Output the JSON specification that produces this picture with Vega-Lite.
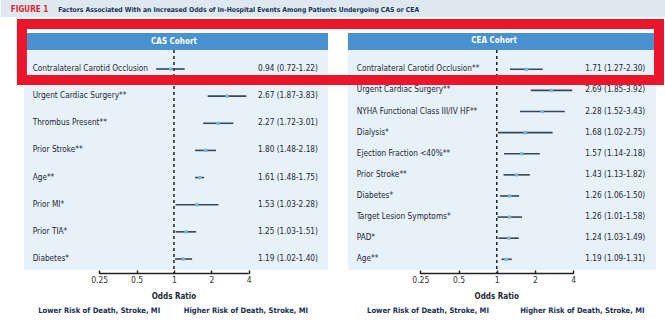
{
  "$schema": "https://vega.github.io/schema/vega-lite/v6.json",
  "padding": 0,
  "background": "white",
  "bounds": "flush",
  "spacing": 20,
  "config": {
    "view": {"stroke": null},
    "text": {"font": "DejaVu Sans Condensed, Roboto"},
    "axis": {"labelFont": "DejaVu Sans Condensed, Roboto"}
  },
  "datasets": {
    "cas": [
      {"rank": 0, "factor": "Contralateral Carotid Occlusion", "or": 0.94, "lo": 0.72, "hi": 1.22, "label": "0.94 (0.72-1.22)"},
      {"rank": 1, "factor": "Urgent Cardiac Surgery**", "or": 2.67, "lo": 1.87, "hi": 3.83, "label": "2.67 (1.87-3.83)"},
      {"rank": 2, "factor": "Thrombus Present**", "or": 2.27, "lo": 1.72, "hi": 3.01, "label": "2.27 (1.72-3.01)"},
      {"rank": 3, "factor": "Prior Stroke**", "or": 1.80, "lo": 1.48, "hi": 2.18, "label": "1.80 (1.48-2.18)"},
      {"rank": 4, "factor": "Age**", "or": 1.61, "lo": 1.48, "hi": 1.75, "label": "1.61 (1.48-1.75)"},
      {"rank": 5, "factor": "Prior MI*", "or": 1.53, "lo": 1.03, "hi": 2.28, "label": "1.53 (1.03-2.28)"},
      {"rank": 6, "factor": "Prior TIA*", "or": 1.25, "lo": 1.03, "hi": 1.51, "label": "1.25 (1.03-1.51)"},
      {"rank": 7, "factor": "Diabetes*", "or": 1.19, "lo": 1.02, "hi": 1.40, "label": "1.19 (1.02-1.40)"}
    ],
    "cea": [
      {"rank": 0, "factor": "Contralateral Carotid Occlusion**", "or": 1.71, "lo": 1.27, "hi": 2.30, "label": "1.71 (1.27-2.30)"},
      {"rank": 1, "factor": "Urgent Cardiac Surgery**", "or": 2.69, "lo": 1.85, "hi": 3.92, "label": "2.69 (1.85-3.92)"},
      {"rank": 2, "factor": "NYHA Functional Class III/IV HF**", "or": 2.28, "lo": 1.52, "hi": 3.43, "label": "2.28 (1.52-3.43)"},
      {"rank": 3, "factor": "Dialysis*", "or": 1.68, "lo": 1.02, "hi": 2.75, "label": "1.68 (1.02-2.75)"},
      {"rank": 4, "factor": "Ejection Fraction <40%**", "or": 1.57, "lo": 1.14, "hi": 2.18, "label": "1.57 (1.14-2.18)"},
      {"rank": 5, "factor": "Prior Stroke**", "or": 1.43, "lo": 1.13, "hi": 1.82, "label": "1.43 (1.13-1.82)"},
      {"rank": 6, "factor": "Diabetes*", "or": 1.26, "lo": 1.06, "hi": 1.50, "label": "1.26 (1.06-1.50)"},
      {"rank": 7, "factor": "Target Lesion Symptoms*", "or": 1.26, "lo": 1.01, "hi": 1.58, "label": "1.26 (1.01-1.58)"},
      {"rank": 8, "factor": "PAD*", "or": 1.24, "lo": 1.03, "hi": 1.49, "label": "1.24 (1.03-1.49)"},
      {"rank": 9, "factor": "Age**", "or": 1.19, "lo": 1.09, "hi": 1.31, "label": "1.19 (1.09-1.31)"}
    ]
  },
  "hconcat": [
    {
      "width": 304,
      "height": 237,
      "view": {"fill": "#e7f1fa", "stroke": null},
      "layer": [
        {"data": {"values": [{}]}, "mark": {"type": "rect", "color": "#dde8f1"},
         "encoding": {"x": {"datum": 0.0403, "scale": {"type": "log", "domain": [0.06192, 17.42], "nice": false}}, "x2": {"datum": 9236},
                      "y": {"datum": -2.5424, "scale": {"domain": [-1.3265, 7.406], "reverse": true, "nice": false, "zero": false}, "axis": null}, "y2": {"datum": -1.916}}},
        {"data": {"values": [{}]}, "mark": {"type": "text", "text": "FIGURE 1", "align": "left", "baseline": "middle", "fontSize": 8, "fontWeight": "bold", "color": "#e0262d"},
         "encoding": {"x": {"datum": 0.04852, "scale": {"type": "log", "domain": [0.06192, 17.42], "nice": false}},
                      "y": {"datum": -2.192, "scale": {"domain": [-1.3265, 7.406], "reverse": true, "nice": false, "zero": false}, "axis": null}}},
        {"data": {"values": [{}]}, "mark": {"type": "text", "text": "Factors Associated With an Increased Odds of In-Hospital Events Among Patients Undergoing CAS or CEA", "align": "left", "baseline": "middle", "fontSize": 6.75, "fontWeight": "bold", "color": "#1b3051"},
         "encoding": {"x": {"datum": 0.1168, "scale": {"type": "log", "domain": [0.06192, 17.42], "nice": false}},
                      "y": {"datum": -2.192, "scale": {"domain": [-1.3265, 7.406], "reverse": true, "nice": false, "zero": false}, "axis": null}}},
        {"data": {"values": [{}]}, "mark": {"type": "rect", "color": "#4a91d0"},
         "encoding": {"x": {"datum": 0.06192, "scale": {"type": "log", "domain": [0.06192, 17.42], "nice": false}}, "x2": {"datum": 17.42},
                      "y": {"datum": -1.3265, "scale": {"domain": [-1.3265, 7.406], "reverse": true, "nice": false, "zero": false}, "axis": null}, "y2": {"datum": -0.700}}},
        {"data": {"values": [{}]}, "mark": {"type": "text", "text": "CAS Cohort", "align": "center", "baseline": "middle", "fontSize": 8, "fontWeight": "bold", "color": "white"},
         "encoding": {"x": {"datum": 1, "scale": {"type": "log", "domain": [0.06192, 17.42], "nice": false}},
                      "y": {"datum": -1.013, "scale": {"domain": [-1.3265, 7.406], "reverse": true, "nice": false, "zero": false}, "axis": null}}},
        {"data": {"values": [{}]}, "mark": {"type": "rule", "color": "#222222", "strokeWidth": 1.5, "strokeDash": [3, 3]},
         "encoding": {"x": {"datum": 1, "scale": {"type": "log", "domain": [0.06192, 17.42], "nice": false}},
                      "y": {"datum": -0.700, "scale": {"domain": [-1.3265, 7.406], "reverse": true, "nice": false, "zero": false}, "axis": null}, "y2": {"datum": 7.535}}},
        {"data": {"name": "cas"}, "mark": {"type": "rule", "color": "#3a4650", "strokeWidth": 1.6},
         "encoding": {"x": {"field": "lo", "type": "quantitative", "scale": {"type": "log", "domain": [0.06192, 17.42], "nice": false},
                            "axis": {"values": [0.25, 0.5, 1, 2, 4], "labelExpr": "'' + datum.value", "labelOverlap": false, "domain": false, "grid": false, "tickSize": 3.5, "tickColor": "#222222", "tickWidth": 1.5, "labelFontSize": 8.5, "labelColor": "#333333", "labelPadding": 2, "title": null}},
                      "x2": {"field": "hi"},
                      "y": {"field": "rank", "type": "quantitative", "scale": {"domain": [-1.3265, 7.406], "reverse": true, "nice": false, "zero": false}, "axis": null}}},
        {"data": {"name": "cas"}, "mark": {"type": "circle", "size": 14, "color": "#7db3dd", "opacity": 1},
         "encoding": {"x": {"field": "or", "type": "quantitative", "scale": {"type": "log", "domain": [0.06192, 17.42], "nice": false}},
                      "y": {"field": "rank", "type": "quantitative", "scale": {"domain": [-1.3265, 7.406], "reverse": true, "nice": false, "zero": false}, "axis": null}}},
        {"data": {"name": "cas"}, "mark": {"type": "text", "align": "left", "baseline": "middle", "fontSize": 8.2, "color": "#1e2832"},
         "encoding": {"x": {"datum": 0.07272, "scale": {"type": "log", "domain": [0.06192, 17.42], "nice": false}},
                      "y": {"field": "rank", "type": "quantitative", "scale": {"domain": [-1.3265, 7.406], "reverse": true, "nice": false, "zero": false}, "axis": null},
                      "text": {"field": "factor"}}},
        {"data": {"name": "cas"}, "mark": {"type": "text", "align": "left", "baseline": "middle", "fontSize": 8.2, "color": "#1e2832"},
         "encoding": {"x": {"datum": 4.75, "scale": {"type": "log", "domain": [0.06192, 17.42], "nice": false}},
                      "y": {"field": "rank", "type": "quantitative", "scale": {"domain": [-1.3265, 7.406], "reverse": true, "nice": false, "zero": false}, "axis": null},
                      "text": {"field": "label"}}},
        {"data": {"values": [{}]}, "mark": {"type": "rule", "color": "#222222", "strokeWidth": 1.5},
         "encoding": {"x": {"datum": 0.25, "scale": {"type": "log", "domain": [0.06192, 17.42], "nice": false}}, "x2": {"datum": 4},
                      "y": {"datum": 7.535, "scale": {"domain": [-1.3265, 7.406], "reverse": true, "nice": false, "zero": false}, "axis": null}}},
        {"data": {"values": [{}]}, "mark": {"type": "text", "text": "Odds Ratio", "align": "center", "baseline": "middle", "fontSize": 8, "fontWeight": "bold", "color": "#1e2832"},
         "encoding": {"x": {"datum": 1, "scale": {"type": "log", "domain": [0.06192, 17.42], "nice": false}},
                      "y": {"datum": 8.383, "scale": {"domain": [-1.3265, 7.406], "reverse": true, "nice": false, "zero": false}, "axis": null}}},
        {"data": {"values": [{}]}, "mark": {"type": "text", "text": "Lower Risk of Death, Stroke, MI", "align": "center", "baseline": "middle", "fontSize": 7.6, "fontWeight": "bold", "color": "#1b3051"},
         "encoding": {"x": {"datum": 0.25, "scale": {"type": "log", "domain": [0.06192, 17.42], "nice": false}},
                      "y": {"datum": 8.935, "scale": {"domain": [-1.3265, 7.406], "reverse": true, "nice": false, "zero": false}, "axis": null}}},
        {"data": {"values": [{}]}, "mark": {"type": "text", "text": "Higher Risk of Death, Stroke, MI", "align": "center", "baseline": "middle", "fontSize": 7.6, "fontWeight": "bold", "color": "#1b3051"},
         "encoding": {"x": {"datum": 3.8, "scale": {"type": "log", "domain": [0.06192, 17.42], "nice": false}},
                      "y": {"datum": 8.935, "scale": {"domain": [-1.3265, 7.406], "reverse": true, "nice": false, "zero": false}, "axis": null}}}
      ]
    },
    {
      "width": 308,
      "height": 237,
      "view": {"fill": "#e7f1fa", "stroke": null},
      "layer": [
        {"data": {"values": [{}]}, "mark": {"type": "rect", "color": "#4a91d0"},
         "encoding": {"x": {"datum": 0.06748, "scale": {"type": "log", "domain": [0.06748, 17.9], "nice": false}}, "x2": {"datum": 17.9},
                      "y": {"datum": -1.7196, "scale": {"domain": [-1.7196, 9.5074], "reverse": true, "nice": false, "zero": false}, "axis": null}, "y2": {"datum": -0.9143}}},
        {"data": {"values": [{}]}, "mark": {"type": "text", "text": "CEA Cohort", "align": "center", "baseline": "middle", "fontSize": 8, "fontWeight": "bold", "color": "white"},
         "encoding": {"x": {"datum": 0.952, "scale": {"type": "log", "domain": [0.06748, 17.9], "nice": false}},
                      "y": {"datum": -1.317, "scale": {"domain": [-1.7196, 9.5074], "reverse": true, "nice": false, "zero": false}, "axis": null}}},
        {"data": {"values": [{}]}, "mark": {"type": "rule", "color": "#222222", "strokeWidth": 1.5, "strokeDash": [3, 3]},
         "encoding": {"x": {"datum": 1, "scale": {"type": "log", "domain": [0.06748, 17.9], "nice": false}},
                      "y": {"datum": -0.9143, "scale": {"domain": [-1.7196, 9.5074], "reverse": true, "nice": false, "zero": false}, "axis": null}, "y2": {"datum": 9.673}}},
        {"data": {"name": "cea"}, "mark": {"type": "rule", "color": "#3a4650", "strokeWidth": 1.6},
         "encoding": {"x": {"field": "lo", "type": "quantitative", "scale": {"type": "log", "domain": [0.06748, 17.9], "nice": false},
                            "axis": {"values": [0.25, 0.5, 1, 2, 4], "labelExpr": "'' + datum.value", "labelOverlap": false, "domain": false, "grid": false, "tickSize": 3.5, "tickColor": "#222222", "tickWidth": 1.5, "labelFontSize": 8.5, "labelColor": "#333333", "labelPadding": 2, "title": null}},
                      "x2": {"field": "hi"},
                      "y": {"field": "rank", "type": "quantitative", "scale": {"domain": [-1.7196, 9.5074], "reverse": true, "nice": false, "zero": false}, "axis": null}}},
        {"data": {"name": "cea"}, "mark": {"type": "circle", "size": 14, "color": "#7db3dd", "opacity": 1},
         "encoding": {"x": {"field": "or", "type": "quantitative", "scale": {"type": "log", "domain": [0.06748, 17.9], "nice": false}},
                      "y": {"field": "rank", "type": "quantitative", "scale": {"domain": [-1.7196, 9.5074], "reverse": true, "nice": false, "zero": false}, "axis": null}}},
        {"data": {"name": "cea"}, "mark": {"type": "text", "align": "left", "baseline": "middle", "fontSize": 8.2, "color": "#1e2832"},
         "encoding": {"x": {"datum": 0.07905, "scale": {"type": "log", "domain": [0.06748, 17.9], "nice": false}},
                      "y": {"field": "rank", "type": "quantitative", "scale": {"domain": [-1.7196, 9.5074], "reverse": true, "nice": false, "zero": false}, "axis": null},
                      "text": {"field": "factor"}}},
        {"data": {"name": "cea"}, "mark": {"type": "text", "align": "left", "baseline": "middle", "fontSize": 8.2, "color": "#1e2832"},
         "encoding": {"x": {"datum": 4.97, "scale": {"type": "log", "domain": [0.06748, 17.9], "nice": false}},
                      "y": {"field": "rank", "type": "quantitative", "scale": {"domain": [-1.7196, 9.5074], "reverse": true, "nice": false, "zero": false}, "axis": null},
                      "text": {"field": "label"}}},
        {"data": {"values": [{}]}, "mark": {"type": "rule", "color": "#222222", "strokeWidth": 1.5},
         "encoding": {"x": {"datum": 0.25, "scale": {"type": "log", "domain": [0.06748, 17.9], "nice": false}}, "x2": {"datum": 4},
                      "y": {"datum": 9.673, "scale": {"domain": [-1.7196, 9.5074], "reverse": true, "nice": false, "zero": false}, "axis": null}}},
        {"data": {"values": [{}]}, "mark": {"type": "text", "text": "Odds Ratio", "align": "center", "baseline": "middle", "fontSize": 8, "fontWeight": "bold", "color": "#1e2832"},
         "encoding": {"x": {"datum": 1, "scale": {"type": "log", "domain": [0.06748, 17.9], "nice": false}},
                      "y": {"datum": 10.763, "scale": {"domain": [-1.7196, 9.5074], "reverse": true, "nice": false, "zero": false}, "axis": null}}},
        {"data": {"values": [{}]}, "mark": {"type": "text", "text": "Lower Risk of Death, Stroke, MI", "align": "center", "baseline": "middle", "fontSize": 7.6, "fontWeight": "bold", "color": "#1b3051"},
         "encoding": {"x": {"datum": 0.2875, "scale": {"type": "log", "domain": [0.06748, 17.9], "nice": false}},
                      "y": {"datum": 11.473, "scale": {"domain": [-1.7196, 9.5074], "reverse": true, "nice": false, "zero": false}, "axis": null}}},
        {"data": {"values": [{}]}, "mark": {"type": "text", "text": "Higher Risk of Death, Stroke, MI", "align": "center", "baseline": "middle", "fontSize": 7.6, "fontWeight": "bold", "color": "#1b3051"},
         "encoding": {"x": {"datum": 4.71, "scale": {"type": "log", "domain": [0.06748, 17.9], "nice": false}},
                      "y": {"datum": 11.473, "scale": {"domain": [-1.7196, 9.5074], "reverse": true, "nice": false, "zero": false}, "axis": null}}},
        {"data": {"values": [{}]}, "mark": {"type": "rect", "filled": false, "stroke": "#e9162c", "strokeWidth": 10, "fill": null},
         "encoding": {"x": {"datum": 0.0001833, "scale": {"type": "log", "domain": [0.06748, 17.9], "nice": false}}, "x2": {"datum": 18.9},
                      "y": {"datum": -2.146, "scale": {"domain": [-1.7196, 9.5074], "reverse": true, "nice": false, "zero": false}, "axis": null}, "y2": {"datum": 0.5069}}}
      ]
    }
  ]
}
